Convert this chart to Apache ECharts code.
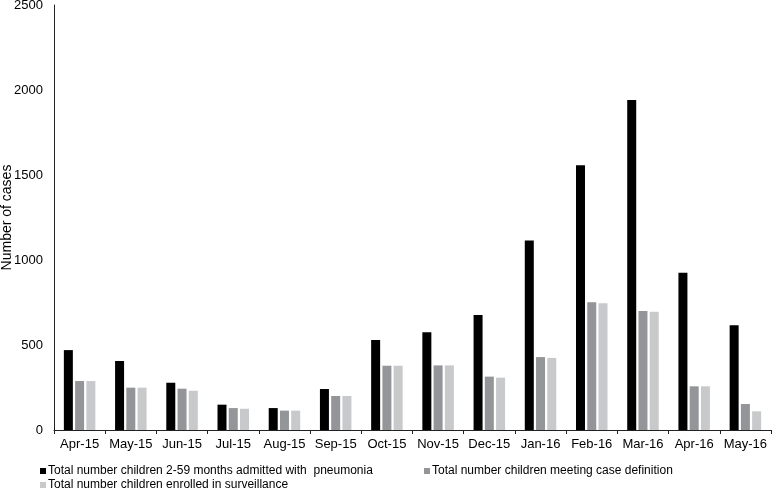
<!DOCTYPE html>
<html><head><meta charset="utf-8">
<script src="https://cdn.jsdelivr.net/npm/echarts@6/dist/echarts.min.js"></script>
<style>html,body{margin:0;padding:0;background:#fff}#c{width:772px;height:489px}</style>
</head><body><div id="c"></div>
<script>
const categories = ['Apr-15','May-15','Jun-15','Jul-15','Aug-15','Sep-15','Oct-15','Nov-15','Dec-15','Jan-16','Feb-16','Mar-16','Apr-16','May-16'];
const admitted = [470, 406, 278, 149, 129, 241, 529, 575, 676, 1114, 1557, 1941, 925, 616];
const meetingDef = [288, 249, 243, 129, 114, 200, 378, 380, 314, 429, 751, 700, 257, 153];
const enrolled = [288, 249, 231, 125, 114, 200, 378, 380, 308, 424, 745, 696, 257, 110];
const yTicks = [0, 500, 1000, 1500, 2000, 2500];
const names = ['Total number children 2-59 months admitted with  pneumonia','Total number children meeting case definition','Total number children enrolled in surveillance'];
const colors = ['#000000', '#939598', '#c8c9cb'];

const chart = echarts.init(document.getElementById('c'));
const legendText = {fontFamily: '"Liberation Sans",Arial,sans-serif', fontSize: 12, color: '#000', padding: [0, 0, 0, -3]};
const legendBase = {itemWidth: 6, itemHeight: 6, icon: 'rect', textStyle: legendText, padding: 0, selectedMode: false};
chart.setOption({
  animation: false,
  textStyle: {fontFamily: '"Liberation Sans",Arial,sans-serif'},
  grid: {left: 54, right: 1, top: 5, bottom: 59, containLabel: false, outerBoundsMode: 'none'},
  legend: [
    Object.assign({data: [names[0]], left: 40, top: 465}, legendBase),
    Object.assign({data: [names[1]], left: 424, top: 465}, legendBase),
    Object.assign({data: [names[2]], left: 40, top: 479}, legendBase)
  ],
  xAxis: {
    type: 'category', data: categories, boundaryGap: true,
    axisLine: {lineStyle: {color: '#222', width: 1}},
    axisTick: {show: true, alignWithLabel: false, length: 4, lineStyle: {color: '#222'}},
    axisLabel: {color: '#000', fontSize: 13, margin: 8, interval: 0}
  },
  yAxis: {
    type: 'value', min: yTicks[0], max: yTicks[yTicks.length-1], interval: 500,
    name: 'Number of cases', nameLocation: 'middle', nameGap: 40, nameRotate: 90,
    nameMoveOverlap: false,
    nameTextStyle: {color: '#000', fontSize: 14},
    axisLine: {show: true, lineStyle: {color: '#222', width: 1}},
    axisTick: {show: false},
    splitLine: {show: false},
    axisLabel: {color: '#000', fontSize: 13, margin: 11, formatter: v => String(v)}
  },
  series: [
    {name: names[0], type: 'bar', data: admitted, barWidth: 9, barGap: '25%', itemStyle: {color: colors[0]}},
    {name: names[1], type: 'bar', data: meetingDef, barWidth: 9, barGap: '25%', itemStyle: {color: colors[1]}},
    {name: names[2], type: 'bar', data: enrolled, barWidth: 9, barGap: '25%', itemStyle: {color: colors[2]}}
  ]
});
</script></body></html>
